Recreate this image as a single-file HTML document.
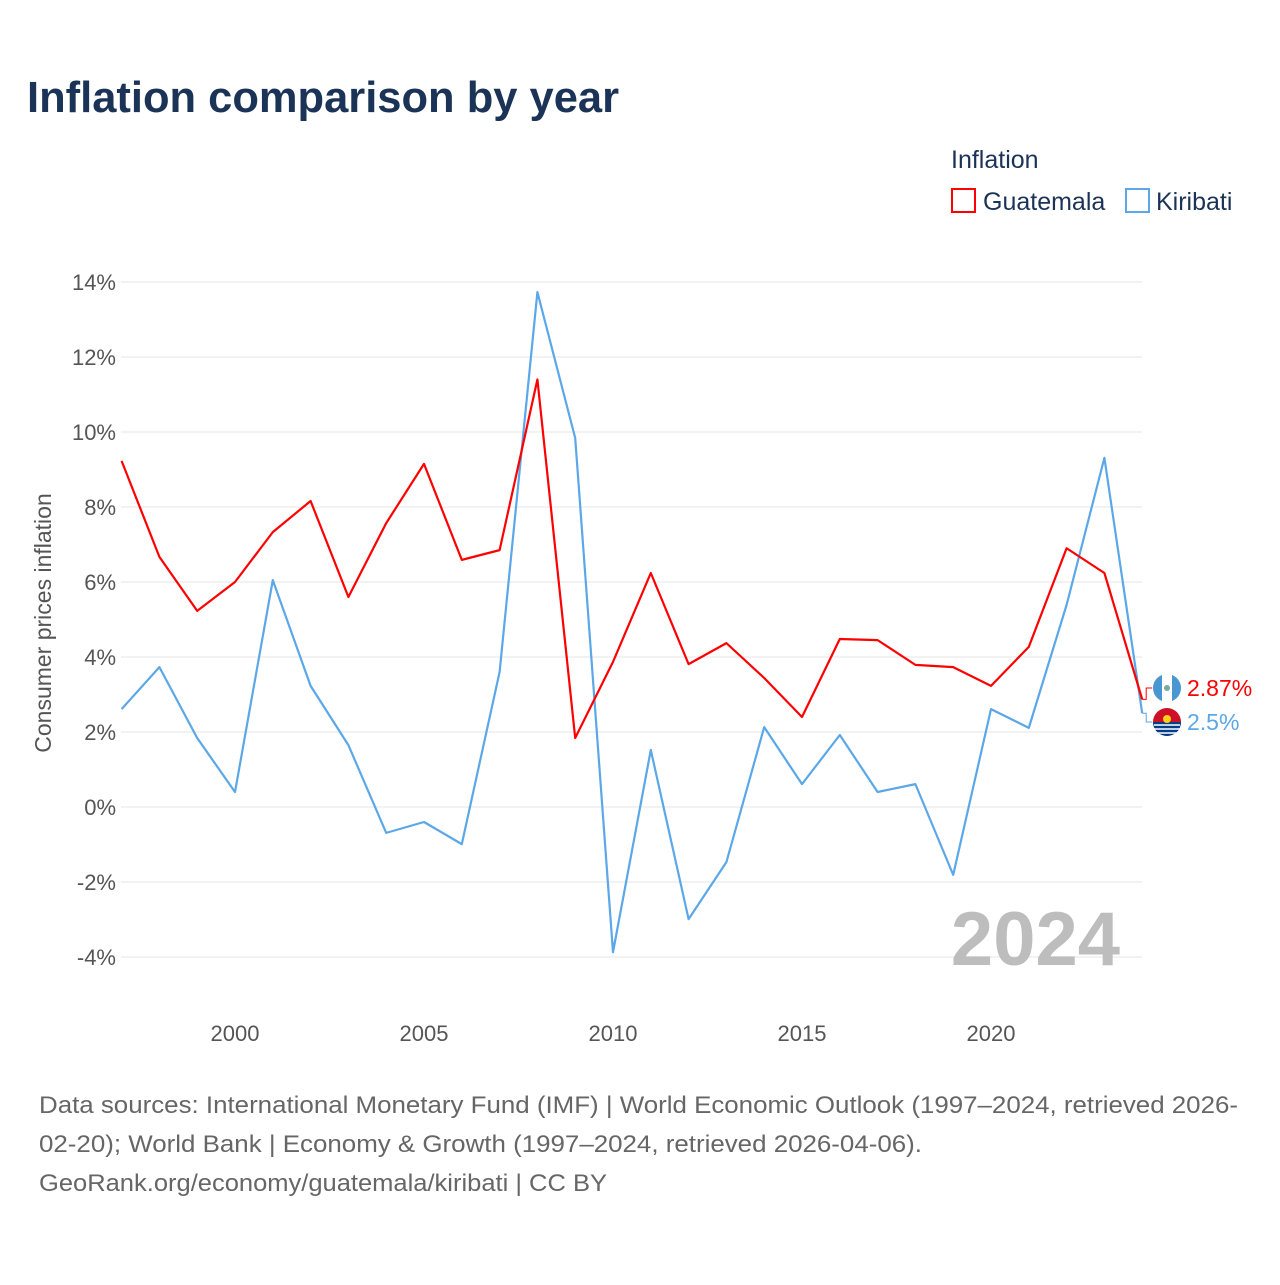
<!DOCTYPE html>
<html><head><meta charset="utf-8">
<style>
body{margin:0;background:#fff;}
svg text{font-family:"Liberation Sans",sans-serif;}
</style></head>
<body>
<svg id="chart" width="1280" height="1280" viewBox="0 0 1280 1280" xmlns="http://www.w3.org/2000/svg">
<rect width="1280" height="1280" fill="#fff"/>
<text x="27" y="112" font-size="44" font-weight="bold" fill="#1b3356" textLength="592" lengthAdjust="spacingAndGlyphs">Inflation comparison by year</text>
<text x="951" y="168" font-size="25" fill="#1b3356">Inflation</text>
<g>
<rect x="952" y="189" width="23" height="23" fill="none" stroke="#f00" stroke-width="2"/>
<text x="983" y="210" font-size="25" fill="#1b3356">Guatemala</text></g>
<g>
<rect x="1126" y="189" width="23" height="23" fill="none" stroke="#5ba7e8" stroke-width="2"/>
<text x="1156" y="210" font-size="25" fill="#1b3356">Kiribati</text></g>
<text transform="translate(51,623) rotate(-90)" text-anchor="middle" font-size="23" fill="#555">Consumer prices inflation</text>
<g id="grid"></g><g id="xt"></g>
<text x="1120" y="965" text-anchor="end" font-size="76" font-weight="bold" fill="#bdbdbd">2024</text>
<g id="lines"></g>
<g font-size="24" fill="#666">
<text x="39" y="1113" textLength="1199" lengthAdjust="spacingAndGlyphs">Data sources: International Monetary Fund (IMF) | World Economic Outlook (1997–2024, retrieved 2026-</text>
<text x="39" y="1152" textLength="883" lengthAdjust="spacingAndGlyphs">02-20); World Bank | Economy &amp; Growth (1997–2024, retrieved 2026-04-06).</text>
<text x="39" y="1191" textLength="568" lengthAdjust="spacingAndGlyphs">GeoRank.org/economy/guatemala/kiribati | CC BY</text></g>
</svg>
<script>
const years=[1997,1998,1999,2000,2001,2002,2003,2004,2005,2006,2007,2008,2009,2010,2011,2012,2013,2014,2015,2016,2017,2018,2019,2020,2021,2022,2023,2024];
const guatemala=[9.23,6.67,5.23,6.0,7.33,8.16,5.6,7.57,9.15,6.59,6.85,11.4,1.84,3.87,6.24,3.81,4.37,3.44,2.4,4.48,4.45,3.79,3.73,3.23,4.27,6.9,6.24,2.87];
const kiribati=[2.61,3.73,1.84,0.4,6.05,3.23,1.65,-0.69,-0.4,-0.99,3.6,13.73,9.84,-3.87,1.52,-2.99,-1.47,2.13,0.61,1.92,0.4,0.61,-1.81,2.61,2.11,5.39,9.31,2.5];
const yTicks=[14,12,10,8,6,4,2,0,-2,-4];
const xTicks=[2000,2005,2010,2015,2020];
const NS="http://www.w3.org/2000/svg";
const X=y=>121.6+(y-1997)*37.8;
const Y=v=>807-v*37.5;
function mk(t,a,p){const e=document.createElementNS(NS,t);for(const k in a)e.setAttribute(k,a[k]);p.appendChild(e);return e;}
const grid=document.getElementById('grid');
yTicks.forEach(v=>{
 const l=mk('line',{x1:121,x2:1142,y1:Y(v),y2:Y(v),stroke:'#e6e6e6','stroke-width':1},grid);
 
 
 const t=mk('text',{x:116,y:Y(v)+8,'text-anchor':'end','font-size':22,fill:'#555'},grid);
 t.textContent=v+'%';
 
 
});
const xt=document.getElementById('xt');
xTicks.forEach(y=>{
 const t=mk('text',{x:X(y),y:1041,'text-anchor':'middle','font-size':22,fill:'#555'},xt);
 t.textContent=y;
 
 
});
const lines=document.getElementById('lines');
function series(vals,col,name){
 const p=mk('polyline',{points:vals.map((v,i)=>X(years[i])+','+Y(v)).join(' '),fill:'none',stroke:col,'stroke-width':2.2,'stroke-linejoin':'round'},lines);
 
 
}
series(kiribati,'#5ba7e8','kiribati-line');
series(guatemala,'#f00','guatemala-line');
function endLabel(v,col,ly,txt,name,flag){
 const g=mk('g',{},lines);
 
 
 const x0=X(2024);
 mk('polyline',{points:`${x0},${Y(v)} ${x0+4},${Y(v)} ${x0+4},${ly} ${x0+10},${ly}`,fill:'none',stroke:col,'stroke-width':1},g);
 if(flag==='gt'){mk('circle',{cx:1167,cy:ly,r:14,fill:'#4997d0'},g);mk('rect',{x:1162,y:ly-14,width:10,height:28,fill:'#fff'},g);mk('circle',{cx:1167,cy:ly,r:3,fill:'#7a9'},g);}
 else{mk('circle',{cx:1167,cy:ly,r:14,fill:'#ce1126'},g);mk('path',{d:`M1153 ${ly} A14 14 0 0 0 1181 ${ly} Z`,fill:'#003f87'},g);
  [3,7,11].forEach(d=>mk('line',{x1:1154,x2:1180,y1:ly+d,y2:ly+d,stroke:'#fff','stroke-width':1.6},g));mk('circle',{cx:1167,cy:ly-3,r:4,fill:'#fcd116'},g);}
 const t=mk('text',{x:1187,y:ly+8,'font-size':23,fill:col},g);t.textContent=txt;
}
endLabel(guatemala[guatemala.length-1],'#f00',688,guatemala[guatemala.length-1]+'%','guatemala-end-label','gt');
endLabel(kiribati[kiribati.length-1],'#5ba7e8',722,kiribati[kiribati.length-1]+'%','kiribati-end-label','ki');
</script>
</body></html>
